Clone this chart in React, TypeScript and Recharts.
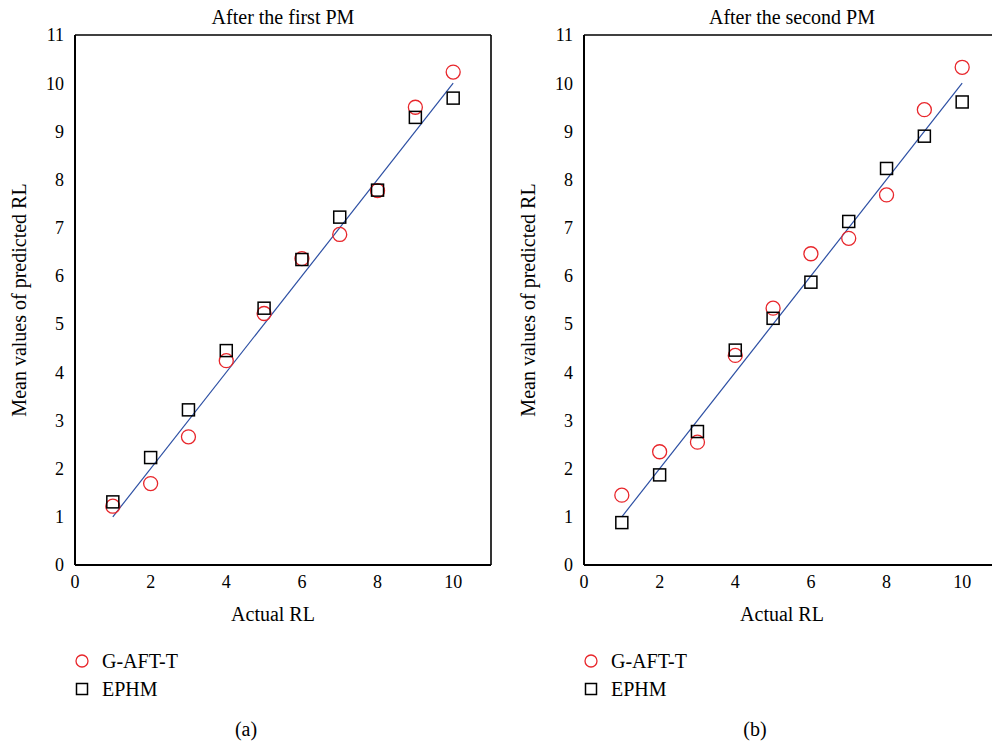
import React from 'react';
import { ScatterChart, Scatter, XAxis, YAxis, ReferenceLine } from 'recharts';

const FONT = "'Liberation Serif', 'Times New Roman', serif";

// actual RL on the x axis
const actualRL = [1, 2, 3, 4, 5, 6, 7, 8, 9, 10];
// panel (a): after the first PM
const gaftFirst = [1.22, 1.69, 2.66, 4.24, 5.22, 6.36, 6.86, 7.77, 9.5, 10.23];
const ephmFirst = [1.31, 2.23, 3.22, 4.45, 5.33, 6.34, 7.22, 7.78, 9.29, 9.69];
// panel (b): after the second PM
const gaftSecond = [1.45, 2.35, 2.55, 4.35, 5.33, 6.46, 6.78, 7.68, 9.45, 10.33];
const ephmSecond = [0.88, 1.87, 2.77, 4.46, 5.12, 5.87, 7.13, 8.23, 8.9, 9.61];
// reference line y = x
const fitLine = [1, 10];

const xTicks = [0, 2, 4, 6, 8, 10];
const yTicks = [0, 1, 2, 3, 4, 5, 6, 7, 8, 9, 10, 11];
const axisDomain = [0, 11];

const RED = '#e8262b';
const BLUE = '#2c4fa3';

const toPoints = (ys: number[]) => actualRL.map((x, i) => ({ x, y: ys[i] }));

const CircleMark = (props: any) => (
  <circle cx={props.cx} cy={props.cy} r={7} fill="none" stroke={RED} strokeWidth={1.3} />
);
const SquareMark = (props: any) => (
  <rect x={props.cx - 6} y={props.cy - 6} width={12} height={12} fill="none" stroke="#000" strokeWidth={1.5} />
);
const NoTick = () => <g />;

const tickStyle = { fill: '#000', fontSize: 18, fontFamily: FONT };
const labelStyle = { fill: '#000', fontSize: 20, fontFamily: FONT };

type PanelProps = { left: number; title: string; tag: string; gaft: number[]; ephm: number[] };

const Panel = ({ left, title, tag, gaft, ephm }: PanelProps) => (
  <div style={{ position: 'absolute', left, top: 0, width: 500, height: 744 }}>
    <div
      style={{
        position: 'absolute', left: 75, width: 416, top: 7, textAlign: 'center',
        fontSize: 20, lineHeight: '20px', fontFamily: FONT, color: '#000',
      }}
    >
      {title}
    </div>
    <div style={{ position: 'absolute', left: 0, top: 0 }}>
      <ScatterChart width={500} height={625} margin={{ top: 35, right: 9, bottom: 0, left: 0 }}>
        <XAxis
          dataKey="x" type="number" domain={axisDomain} ticks={xTicks} height={60}
          tickLine={false} tickSize={6} tickMargin={4} tick={tickStyle}
          axisLine={{ stroke: '#000', strokeWidth: 2 }}
          label={{ value: 'Actual RL', position: 'insideBottom', offset: 4, dx: -10, style: labelStyle }}
        />
        <XAxis xAxisId="bm" orientation="bottom" mirror type="number" domain={axisDomain} ticks={xTicks}
          height={10} axisLine={false} tickSize={5} tickLine={{ stroke: '#000', strokeWidth: 1.3 }} tick={NoTick} />
        <XAxis xAxisId="tm" orientation="top" mirror type="number" domain={axisDomain} ticks={xTicks}
          height={10} axisLine={{ stroke: '#000', strokeWidth: 1.6 }} tickSize={5}
          tickLine={{ stroke: '#000', strokeWidth: 1.3 }} tick={NoTick} />
        <YAxis
          dataKey="y" type="number" domain={axisDomain} ticks={yTicks} width={75}
          tickLine={false} tickSize={6} tickMargin={5} tick={tickStyle}
          axisLine={{ stroke: '#000', strokeWidth: 2 }}
          label={{
            value: 'Mean values of predicted RL', angle: -90, position: 'insideLeft', offset: 19,
            style: { ...labelStyle, textAnchor: 'middle' },
          }}
        />
        <YAxis yAxisId="lm" orientation="left" mirror type="number" domain={axisDomain} ticks={yTicks}
          width={10} axisLine={false} tickSize={5} tickLine={{ stroke: '#000', strokeWidth: 1.3 }} tick={NoTick} />
        <YAxis yAxisId="rm" orientation="right" mirror type="number" domain={axisDomain} ticks={yTicks}
          width={10} axisLine={{ stroke: '#000', strokeWidth: 1.6 }} tickSize={5}
          tickLine={{ stroke: '#000', strokeWidth: 1.3 }} tick={NoTick} />
        <ReferenceLine
          segment={[{ x: fitLine[0], y: fitLine[0] }, { x: fitLine[1], y: fitLine[1] }]}
          stroke={BLUE} strokeWidth={1.2}
        />
        <Scatter name="G-AFT-T" data={toPoints(gaft)} shape={CircleMark} isAnimationActive={false} />
        <Scatter name="EPHM" data={toPoints(ephm)} shape={SquareMark} isAnimationActive={false} />
      </ScatterChart>
    </div>
    <div style={{ position: 'absolute', left: 74, top: 651, fontFamily: FONT, fontSize: 20, lineHeight: '20px', color: '#000' }}>
      <div style={{ display: 'flex', alignItems: 'center', height: 20 }}>
        <svg width={16} height={16} style={{ marginRight: 12 }}>
          <circle cx={8} cy={8} r={6} fill="none" stroke={RED} strokeWidth={1.3} />
        </svg>
        <span>G-AFT-T</span>
      </div>
      <div style={{ display: 'flex', alignItems: 'center', height: 20, marginTop: 8 }}>
        <svg width={16} height={16} style={{ marginRight: 12 }}>
          <rect x={2.5} y={2.5} width={11} height={11} fill="none" stroke="#000" strokeWidth={1.5} />
        </svg>
        <span>EPHM</span>
      </div>
    </div>
    <div
      style={{
        position: 'absolute', left: 206, width: 80, top: 719, textAlign: 'center',
        fontFamily: FONT, fontSize: 20, lineHeight: '20px', color: '#000',
      }}
    >
      {tag}
    </div>
  </div>
);

export default function App() {
  return (
    <div style={{ position: 'absolute', left: 0, top: 0, width: 992, height: 744, overflow: 'hidden', background: '#fff' }}>
      <Panel left={0} title="After the first PM" tag="(a)" gaft={gaftFirst} ephm={ephmFirst} />
      <Panel left={509} title="After the second PM" tag="(b)" gaft={gaftSecond} ephm={ephmSecond} />
    </div>
  );
}
